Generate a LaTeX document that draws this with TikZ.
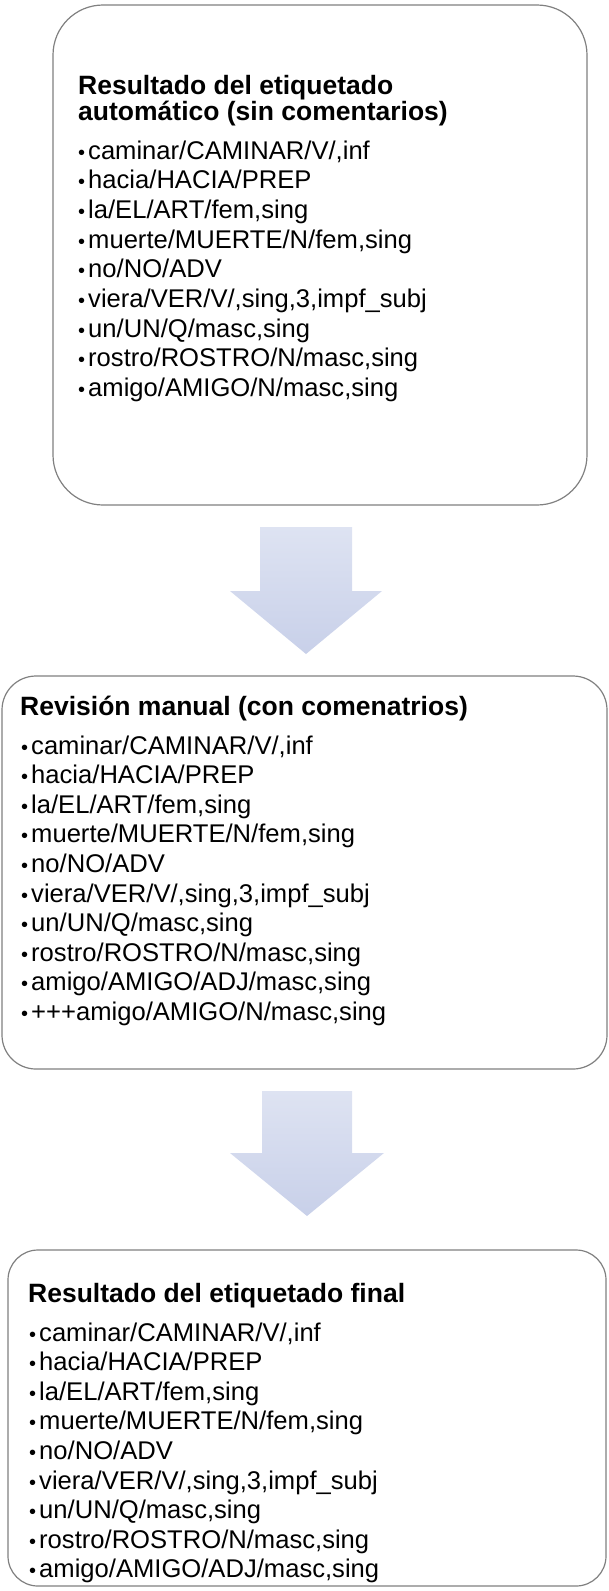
\documentclass[tikz,border=0pt]{standalone}
\usepackage{fontspec}
\setmainfont{Liberation Sans}
\definecolor{boxgray}{RGB}{128,128,128}
\definecolor{arrowtop}{RGB}{222,227,242}
\definecolor{arrowbot}{RGB}{200,208,233}
\newcommand{\bul}{\hspace{1pt}{\fontsize{20}{20}\selectfont •}\hspace{3pt}}
\begin{document}
\begin{tikzpicture}[x=1pt,y=-1pt,
  box/.style={draw=boxgray, line width=1.2pt, fill=white},
  ttl/.style={anchor=base west, font=\bfseries\fontsize{26.5}{26.5}\selectfont, inner sep=0pt},
  itm/.style={anchor=base west, font=\fontsize{25.6}{25.6}\selectfont, inner sep=0pt},
  blockarrow/.style={top color=arrowtop, bottom color=arrowbot, draw=none}]
\useasboundingbox (0,0) rectangle (609,1591);

% Box 1
\draw[box, rounded corners=50pt] (53,5) rectangle (587,505);
\node[ttl] (t1a) at (78,94) {Resultado del etiquetado};
\node[ttl] (t1b) at (78,120) {automático (sin comentarios)};
\foreach \t [count=\i from 0] in {{caminar/CAMINAR/V/,inf},{hacia/HACIA/PREP},{la/EL/ART/fem,sing},{muerte/MUERTE/N/fem,sing},{no/NO/ADV},{viera/VER/V/,sing,3,impf\_subj},{un/UN/Q/masc,sing},{rostro/ROSTRO/N/masc,sing},{amigo/AMIGO/N/masc,sing}}
  \node[itm] (a\i) at (77,159+29.7*\i) {\bul\t};

% Arrow 1
\shade[blockarrow] (260,527) -- (352,527) -- (352,591) -- (382,591) -- (306,654) -- (230,591) -- (260,591) -- cycle;

% Box 2
\draw[box, rounded corners=34pt] (2,676) rectangle (607,1069);
\node[ttl] (t2) at (20,715) {Revisión manual (con comenatrios)};
\foreach \t [count=\i from 0] in {{caminar/CAMINAR/V/,inf},{hacia/HACIA/PREP},{la/EL/ART/fem,sing},{muerte/MUERTE/N/fem,sing},{no/NO/ADV},{viera/VER/V/,sing,3,impf\_subj},{un/UN/Q/masc,sing},{rostro/ROSTRO/N/masc,sing},{amigo/AMIGO/ADJ/masc,sing},{+++amigo/AMIGO/N/masc,sing}}
  \node[itm] (b\i) at (20,754+29.6*\i) {\bul\t};

% Arrow 2
\shade[blockarrow] (262,1091) -- (352,1091) -- (352,1153) -- (384,1153) -- (307,1216) -- (230,1153) -- (262,1153) -- cycle;

% Box 3
\draw[box, rounded corners=30pt] (8,1250) rectangle (606,1586);
\node[ttl] (t3) at (28,1302) {Resultado del etiquetado final};
\foreach \t [count=\i from 0] in {{caminar/CAMINAR/V/,inf},{hacia/HACIA/PREP},{la/EL/ART/fem,sing},{muerte/MUERTE/N/fem,sing},{no/NO/ADV},{viera/VER/V/,sing,3,impf\_subj},{un/UN/Q/masc,sing},{rostro/ROSTRO/N/masc,sing},{amigo/AMIGO/ADJ/masc,sing}}
  \node[itm] (c\i) at (28,1341+29.6*\i) {\bul\t};
\end{tikzpicture}
\end{document}
